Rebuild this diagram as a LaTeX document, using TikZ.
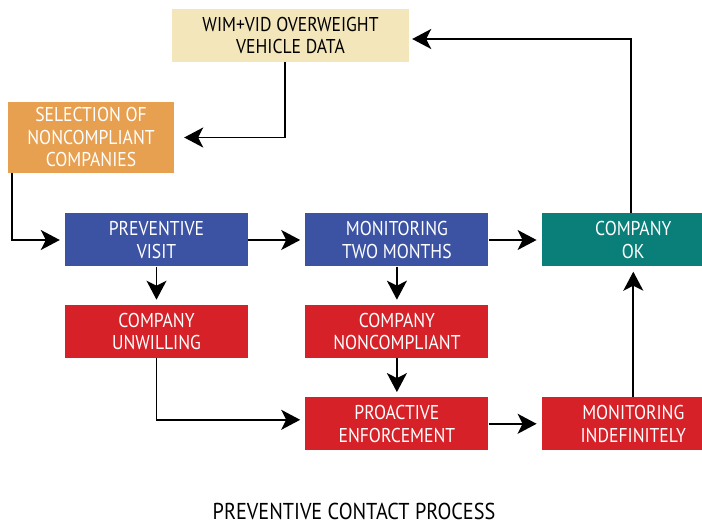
\documentclass[tikz,border=0pt]{standalone}
\usepackage{fontspec}
\setmainfont{PT Sans}[FakeStretch=0.88]
\usepackage{xcolor}
\usetikzlibrary{positioning,arrows.meta}

\definecolor{wimcolor}{HTML}{F3E6BA}
\definecolor{selcolor}{HTML}{E79F50}
\definecolor{bluebox}{HTML}{3C53A4}
\definecolor{tealbox}{HTML}{0A7F79}
\definecolor{redbox}{HTML}{D62128}

\tikzset{
    stepbox/.style={rectangle, minimum width=183pt, minimum height=53pt, align=center,
        text=white, inner sep=0pt, font=\fontsize{20}{22.5}\selectfont},
    flow/.style={line width=1.7pt, -{Stealth[length=19pt,width=20pt,inset=5pt]}, shorten >=5pt}
}

\begin{document}
\begin{tikzpicture}[x=1pt,y=-1pt]
    \useasboundingbox (0,0) rectangle (702,526);

    \node[stepbox, fill=wimcolor, text=black, minimum width=237pt] (wim) at (290.5,35.5) {WIM+VID OVERWEIGHT\\VEHICLE DATA};
    \node[stepbox, fill=selcolor, minimum width=166pt, minimum height=71pt] (sel) at (91,137.5) {SELECTION OF\\NONCOMPLIANT\\COMPANIES};

    \node[stepbox, fill=bluebox] (visit) at (156.5,240) {PREVENTIVE\\VISIT};
    \node[stepbox, fill=bluebox, right=57pt of visit] (twomonths) {MONITORING\\TWO MONTHS};
    \node[stepbox, fill=tealbox, right=53pt of twomonths] (ok) {COMPANY\\OK};

    \node[stepbox, fill=redbox, below=38pt of visit] (unwill) {COMPANY\\UNWILLING};
    \node[stepbox, fill=redbox, below=38pt of twomonths] (noncomp) {COMPANY\\NONCOMPLIANT};
    \node[stepbox, fill=redbox, below=39pt of noncomp] (proact) {PROACTIVE\\ENFORCEMENT};
    \node[stepbox, fill=redbox, right=53pt of proact] (indef) {MONITORING\\INDEFINITELY};

    \node[font=\fontsize{23}{26}\selectfont, anchor=base, inner sep=0pt] (title) at (354,520) {PREVENTIVE CONTACT PROCESS};

    % straight connectors
    \foreach \a/\b in {visit/twomonths, twomonths/ok, visit/unwill, twomonths/noncomp,
                       noncomp/proact, proact/indef, indef/ok}{
        \draw[flow] (\a) -- (\b);
    }

    % elbows
    \draw[flow, shorten >=10pt] ([xshift=-5.5pt]wim.south) |- (sel.east);
    \draw[flow] ([xshift=4pt]sel.south west) |- (visit.west);
    \draw[flow] (unwill.south) |- ([yshift=4pt]proact.west);
    \draw[flow, shorten >=3pt] ([xshift=-2.5pt]ok.north) |- ([yshift=-3.5pt]wim.east);
\end{tikzpicture}
\end{document}
